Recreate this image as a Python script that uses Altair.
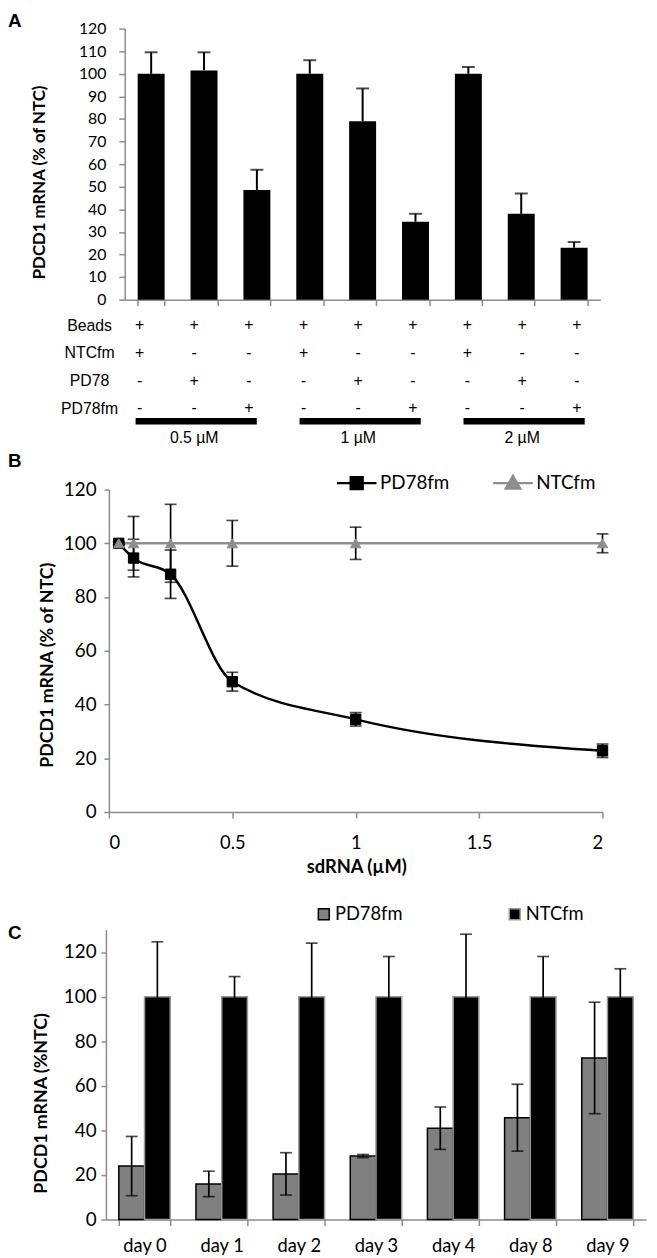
import altair as alt
import pandas as pd

# ---------------- data ----------------
# Panel A
a_categories = ["0.5 µM NTCfm", "0.5 µM PD78", "0.5 µM PD78fm",
                "1 µM NTCfm", "1 µM PD78", "1 µM PD78fm",
                "2 µM NTCfm", "2 µM PD78", "2 µM PD78fm"]
a_values = [100, 101.5, 48.5, 100, 79, 34.5, 100, 38, 23]
a_errors = [9.5, 8, 9, 6, 14.5, 3.5, 3, 9, 2.5]

table_rows = ["Beads", "NTCfm", "PD78", "PD78fm"]
beads_signs = ["+", "+", "+", "+", "+", "+", "+", "+", "+"]
ntcfm_signs = ["+", "-", "-", "+", "-", "-", "+", "-", "-"]
pd78_signs = ["-", "+", "-", "-", "+", "-", "-", "+", "-"]
pd78fm_signs = ["-", "-", "+", "-", "-", "+", "-", "-", "+"]
dose_labels = ["0.5 µM", "1 µM", "2 µM"]
dose_first_col = [1, 4, 7]
dose_last_col = [3, 6, 9]

# Panel B
b_series = ["PD78fm", "NTCfm"]
b_conc = [0.04, 0.1, 0.25, 0.5, 1, 2]
b_pd78fm = [100, 94.5, 88.5, 48.5, 34.5, 22.8]
b_pd78fm_err = [0.5, 7, 9, 3.5, 2.5, 2.5]
b_ntcfm = [100, 100, 100, 100, 100, 100]
b_ntcfm_err = [0.5, 10, 14.5, 8.5, 6, 3.5]

# Panel C
c_series = ["PD78fm", "NTCfm"]
c_days = ["day 0", "day 1", "day 2", "day 3", "day 4", "day 8", "day 9"]
c_pd78fm = [24, 16, 20.5, 28.5, 41, 45.7, 72.5]
c_pd78fm_err = [13.3, 5.7, 9.5, 0.7, 9.5, 15, 25]
c_ntcfm = [100, 100, 100, 100, 100, 100, 100]
c_ntcfm_err = [24.6, 9, 24, 18, 28, 18, 12.5]

# ---------------- layout helpers ----------------
W, H = 648, 1250
def px(v):
    return v - 8
def py(v):
    return v - 8

GRAY_AXIS = "#8c8c8c"
GRAY_NTC = "#8e8e8e"
LATO = "Lato"
ARIAL = "Liberation Sans"


def axis_common(**kw):
    base = dict(grid=False, domainColor=GRAY_AXIS, tickColor=GRAY_AXIS,
                domainWidth=1.5, tickWidth=1.5, labelColor="black",
                labelFont=LATO, titleFont=LATO, titleColor="black",
                titleFontWeight="bold", titleFontSize=18)
    base.update(kw)
    return alt.Axis(**base)

# ---------------- Panel A ----------------
a_df = pd.DataFrame({"cat": a_categories, "value": a_values, "err": a_errors})
a_df["hi"] = a_df["value"] + a_df["err"]

a_x_scale = alt.Scale(domain=a_categories, range=[px(126), px(607)],
                      paddingInner=0.49, paddingOuter=0.245)
a_y_scale = alt.Scale(domain=[0, 120], range=[py(296), py(22)], nice=False, zero=False)
a_x_axis = axis_common(orient="bottom", offset=py(296) - H, labels=False, title=None,
                       tickBand="extent", tickSize=6)
a_y_axis = axis_common(orient="left", offset=-px(126), values=list(range(0, 121, 10)),
                       tickSize=6, labelPadding=13, labelFontSize=16,
                       title="PDCD1 mRNA (% of NTC)", titleFontSize=17,
                       titleX=px(40) - px(126), titleY=py(177),
                       titleBaseline="middle", titleAlign="center")

a_x = alt.X("cat:N", sort=a_categories, scale=a_x_scale, axis=a_x_axis)
a_bars = alt.Chart(a_df).mark_bar(color="black").encode(
    x=a_x, y=alt.Y("value:Q", scale=a_y_scale, axis=a_y_axis))
a_rule = alt.Chart(a_df).mark_rule(color="black", strokeWidth=2).encode(
    x=a_x, y=alt.Y("value:Q", scale=a_y_scale, axis=a_y_axis), y2="hi:Q")
a_caps = alt.Chart(a_df).mark_tick(color="black", thickness=2, size=13,
                                   orient="horizontal").encode(
    x=a_x, y=alt.Y("hi:Q", scale=a_y_scale, axis=a_y_axis))
a_layer = alt.layer(a_bars, a_rule, a_caps)

# ---------------- Table under A ----------------
# rows are placed by their index in the table (dose row comes last)
records = []
for ri, (row, signs) in enumerate(zip(table_rows, [beads_signs, ntcfm_signs,
                                                   pd78_signs, pd78fm_signs])):
    for c, s in enumerate(signs, start=1):
        records.append({"ri": ri, "col": c, "sign": s})
t_df = pd.DataFrame(records)
dose_df = pd.DataFrame({"ri": [len(table_rows)] * len(dose_labels), "label": dose_labels,
                        "first": dose_first_col, "last": dose_last_col})
dose_df["mid"] = (dose_df["first"] + dose_df["last"]) / 2

t_x_scale = alt.Scale(domain=[1, 9], range=[px(141), px(583)], nice=False, zero=False)
t_y_scale = alt.Scale(domain=[0, len(table_rows)], range=[py(322), py(434)],
                      nice=False, zero=False)
row_names_js = "[" + ",".join(f"'{r}'" for r in table_rows) + "]"
t_y_axis = alt.Axis(orient="left", offset=-px(90), values=list(range(len(table_rows))),
                    labelExpr=f"{row_names_js}[datum.value]", domain=False,
                    ticks=False, tickSize=0, labelPadding=0, labelAlign="center",
                    labelBaseline="middle",
                    labelFont=ARIAL, labelFontSize=16, labelColor="black",
                    title=None, grid=False)
t_y = alt.Y("ri:Q", scale=t_y_scale, axis=t_y_axis)

t_text = alt.Chart(t_df).mark_text(font=ARIAL, fontSize=16, color="black").encode(
    x=alt.X("col:Q", scale=t_x_scale, axis=None), y=t_y, text="sign:N")
t_bar = alt.Chart(dose_df).mark_rule(color="black", strokeWidth=6.5, xOffset=-4,
                                     x2Offset=8, yOffset=-15, strokeCap="butt").encode(
    x=alt.X("first:Q", scale=t_x_scale, axis=None), x2="last:Q", y=t_y)
t_dose = alt.Chart(dose_df).mark_text(font=ARIAL, fontSize=16, color="black", dy=2).encode(
    x=alt.X("mid:Q", scale=t_x_scale, axis=None), y=t_y, text="label:N")
t_layer = alt.layer(t_text, t_bar, t_dose)

# ---------------- Panel B ----------------
b_df = pd.DataFrame({
    "series": [b_series[0]] * len(b_conc) + [b_series[1]] * len(b_conc),
    "conc": b_conc + b_conc,
    "value": b_pd78fm + b_ntcfm,
    "err": b_pd78fm_err + b_ntcfm_err,
})
b_df["lo"] = b_df["value"] - b_df["err"]
b_df["hi"] = b_df["value"] + b_df["err"]

b_x_scale = alt.Scale(domain=[0, 2], range=[px(110), px(609)], nice=False, zero=False)
b_y_scale = alt.Scale(domain=[0, 120], range=[py(814), py(488)], nice=False, zero=False)
b_x_axis = axis_common(orient="bottom", offset=py(814) - H, values=[0, 0.5, 1, 1.5, 2],
                       format="~g", tickSize=6, labelPadding=16, labelFontSize=18.5,
                       title="sdRNA (µM)", titleX=px(360), titleY=869 - 814,
                       titleBaseline="middle", titleFontSize=18.5)
b_y_axis = axis_common(orient="left", offset=-px(110), values=list(range(0, 121, 20)),
                       tickSize=5, labelPadding=8, labelFontSize=19,
                       title="PDCD1 mRNA  (% of NTC)", titleX=px(48) - px(110),
                       titleY=py(665), titleBaseline="middle", titleAlign="center")
b_x = alt.X("conc:Q", scale=b_x_scale, axis=b_x_axis)
b_y = alt.Y("value:Q", scale=b_y_scale, axis=b_y_axis)

b_line_pd = alt.Chart(b_df).transform_filter(alt.datum.series == b_series[0]).mark_line(
    color="black", strokeWidth=2.5, interpolate="monotone").encode(x=b_x, y=b_y)
b_line_ntc = alt.Chart(b_df).transform_filter(alt.datum.series == b_series[1]).mark_line(
    color=GRAY_NTC, strokeWidth=2.5).encode(x=b_x, y=b_y)
b_rule = alt.Chart(b_df).mark_rule(color="black", strokeWidth=1.7).encode(
    x=b_x, y=alt.Y("lo:Q", scale=b_y_scale, axis=b_y_axis), y2="hi:Q")
b_caps = alt.Chart(b_df).transform_fold(["lo", "hi"], as_=["end", "cap"]).mark_tick(
    color="black", thickness=1.7, size=12, orient="horizontal").encode(
    x=b_x, y=alt.Y("cap:Q", scale=b_y_scale, axis=b_y_axis))
b_layer = alt.layer(b_line_ntc, b_line_pd, b_rule, b_caps)

# marker layers, one per series, each carrying its own legend entry
sq_path = "M-1,0L1,0M-0.3,-0.3L0.3,-0.3L0.3,0.3L-0.3,0.3Z"
tri_path = "M-1,0L1,0M0,-0.36L0.36,0.27L-0.36,0.27Z"
b_marker_specs = [
    (b_series[0], "square", "#000000", sq_path, 339),
    (b_series[1], "triangle-up", GRAY_NTC, tri_path, 497),
]
b_marker_layers = []
for name, shape, col, path, lx in b_marker_specs:
    leg = alt.Legend(orient="none", legendX=px(lx), legendY=py(480) - 20,
                     title=None, labelFont=LATO, labelFontSize=19, labelColor="black",
                     labelOffset=2, padding=0, symbolSize=1600, symbolStrokeWidth=2.5,
                     symbolOpacity=1, symbolType=path)
    sc = alt.Scale(domain=[name], range=[col])
    b_marker_layers.append(
        alt.Chart(b_df).transform_filter(alt.datum.series == name).mark_point(
            shape=shape, filled=True, size=110, opacity=1, strokeWidth=1).encode(
            x=alt.X("conc:Q", scale=b_x_scale, axis=None),
            y=alt.Y("value:Q", scale=b_y_scale, axis=None),
            fill=alt.Fill("series:N", scale=sc, legend=leg),
            stroke=alt.Stroke("series:N", scale=sc, legend=leg)))

# ---------------- Panel C ----------------
c_df = pd.DataFrame({
    "series": [c_series[0]] * len(c_days) + [c_series[1]] * len(c_days),
    "day": c_days + c_days,
    "value": c_pd78fm + c_ntcfm,
    "err": c_pd78fm_err + c_ntcfm_err,
})
c_df["lo"] = c_df["value"] - c_df["err"]
c_df["hi"] = c_df["value"] + c_df["err"]

c_x_scale = alt.Scale(domain=c_days, range=[px(107), px(653)],
                      paddingInner=1 / 3, paddingOuter=1 / 6)
c_xoff_scale = alt.Scale(domain=c_series, paddingInner=0, paddingOuter=0)
c_y_scale = alt.Scale(domain=[0, 130], range=[py(1226), py(933)], nice=False, zero=False)
c_x_axis = axis_common(orient="bottom", offset=py(1226) - H, tickBand="extent", tickSize=6,
                       labelPadding=11, labelFontSize=18.5, labelAngle=0, title=None)
c_y_axis = axis_common(orient="left", offset=-px(107), values=list(range(0, 121, 20)),
                       tickSize=5, labelPadding=5, labelFontSize=19,
                       title="PDCD1 mRNA (%NTC)", titleX=px(42) - px(107),
                       titleY=py(1108), titleBaseline="middle", titleAlign="center")
c_x = alt.X("day:N", sort=c_days, scale=c_x_scale, axis=c_x_axis)
c_xo = alt.XOffset("series:N", sort=c_series, scale=c_xoff_scale)

c_legend = alt.Legend(
    orient="none", legendX=px(318), legendY=py(918) - 10, direction="horizontal",
    title=None, labelFont=LATO, labelFontSize=18.5, labelColor="black", labelOffset=2,
    columnPadding=104, padding=0, symbolType="square", symbolSize=121,
    symbolStrokeWidth=1.5, symbolOpacity=1)

c_bars = alt.Chart(c_df).mark_bar(strokeWidth=1.5).encode(
    x=c_x, xOffset=c_xo, y=alt.Y("value:Q", scale=c_y_scale, axis=c_y_axis),
    fill=alt.Fill("series:N", sort=c_series,
                  scale=alt.Scale(domain=c_series, range=["#808080", "#000000"]),
                  legend=c_legend),
    stroke=alt.Stroke("series:N", sort=c_series,
                      scale=alt.Scale(domain=c_series, range=["#000000", "#9a9a9a"]),
                      legend=c_legend))
c_rule = alt.Chart(c_df).mark_rule(color="black", strokeWidth=1.7).encode(
    x=c_x, xOffset=c_xo, y=alt.Y("lo:Q", scale=c_y_scale, axis=c_y_axis), y2="hi:Q")
c_caps = alt.Chart(c_df).transform_fold(["lo", "hi"], as_=["end", "cap"]).mark_tick(
    color="black", thickness=1.7, size=12, orient="horizontal").encode(
    x=c_x, xOffset=c_xo, y=alt.Y("cap:Q", scale=c_y_scale, axis=c_y_axis))
c_layer = alt.layer(c_bars, c_rule, c_caps)

# ---------------- panel letters ----------------
def letter(t, x, y):
    return alt.Chart(pd.DataFrame({"t": [t]})).mark_text(
        font=ARIAL, fontSize=19, fontWeight="bold", align="left",
        baseline="alphabetic", color="black").encode(
        text="t:N", x=alt.value(x), y=alt.value(y))

letters = [letter("A", px(8), py(20)), letter("B", px(8), py(465)),
           letter("C", px(8), py(942))]

chart = alt.layer(a_layer, t_layer, b_layer, *b_marker_layers, c_layer, *letters).resolve_scale(
    x="independent", y="independent", fill="independent", stroke="independent",
    shape="independent"
).properties(
    width=W, height=H, padding=0, autosize=alt.AutoSizeParams(type="none")
).configure_view(stroke=None)

chart.save("out.html", embed_options={"renderer": "svg", "actions": False})
